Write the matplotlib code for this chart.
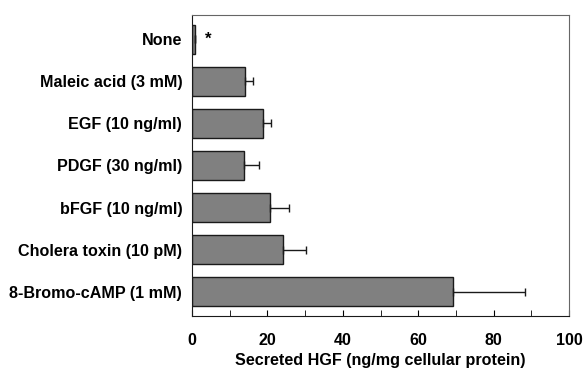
import matplotlib
matplotlib.use("Agg")
from matplotlib import pyplot as plt
from matplotlib.ticker import MultipleLocator

plt.rcParams['font.family'] = ['Liberation Sans', 'DejaVu Sans']
plt.rcParams['font.weight'] = 'bold'

labels = ['None', 'Maleic acid (3 mM)', 'EGF (10 ng/ml)', 'PDGF (30 ng/ml)',
          'bFGF (10 ng/ml)', 'Cholera toxin (10 pM)', '8-Bromo-cAMP (1 mM)']
values = [0.7, 14.1, 18.8, 13.8, 20.7, 24.1, 69.2]
errors = [0.2, 2.0, 2.2, 4.0, 5.1, 6.1, 19.1]

fig = plt.figure(figsize=(5.85, 3.69), dpi=100)
ax = fig.add_axes([0.328, 0.144, 0.645, 0.815])

pos = list(range(len(labels)))
ax.barh(pos, values, height=0.69, color='#808080', edgecolor='#1a1a1a',
        linewidth=1.0, xerr=[[0] * len(errors), errors],
        error_kw=dict(ecolor='#1a1a1a', elinewidth=1.0, capsize=3, capthick=1.0))
ax.text(4.2, 0, '*', ha='center', va='center', fontsize=12, fontweight='bold')

ax.set_ylim(6.57, -0.57)
ax.set_xlim(0, 100)
ax.set_yticks(pos)
ax.set_yticklabels(labels, fontsize=11.6, fontweight='bold')
ax.tick_params(axis='y', length=0, pad=7)
ax.xaxis.set_major_locator(MultipleLocator(20))
ax.xaxis.set_minor_locator(MultipleLocator(10))
ax.tick_params(axis='x', which='both', direction='in', length=4, labelsize=11.5, pad=12)
for lab in ax.get_xticklabels():
    lab.set_fontweight('bold')
ax.set_xlabel('Secreted HGF (ng/mg cellular protein)', fontsize=11.6, fontweight='bold', labelpad=4)

ax.spines['left'].set_color('#1a1a1a')
ax.spines['bottom'].set_color('#1a1a1a')
ax.spines['top'].set_color('#666666')
ax.spines['right'].set_color('#666666')

fig.savefig('out.png', dpi=100)
